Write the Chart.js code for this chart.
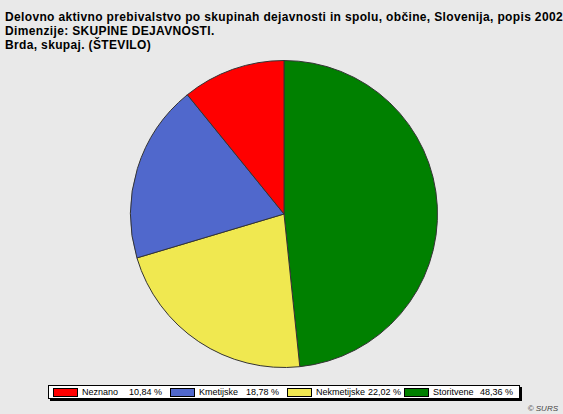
<!DOCTYPE html>
<html>
<head>
<meta charset="utf-8">
<script src="https://cdn.jsdelivr.net/npm/chart.js@4.4.0/dist/chart.umd.min.js"></script>
<style>
    body { margin: 0; width: 563px; height: 414px; background: #e9e9e9; position: relative; overflow: hidden; font-family: "Liberation Sans", Arial, sans-serif; }
    #title { position: absolute; left: 5px; top: 10px; font-size: 12px; font-weight: bold; line-height: 14px; letter-spacing: 0.35px; color: #000; white-space: nowrap; }
    #chartBox { position: absolute; left: 129px; top: 59px; width: 310px; height: 310px; }
    #legend { position: absolute; left: 48px; top: 385px; width: 470px; height: 12px; background: #fff; border: 1px solid #000; box-shadow: 2px 2px 0 #000; display: flex; align-items: center; }
    .item { width: 117px; display: flex; align-items: center; font-size: 9px; box-sizing: border-box; padding-left: 4px; padding-right: 4px; }
    .swatch { width: 23px; height: 7px; border: 1px solid #000; margin-right: 4px; flex: none; }
    .label { flex: 1; display: flex; justify-content: space-between; gap: 3px; white-space: nowrap; }
    #copy { position: absolute; right: 5px; top: 404px; font-size: 8px; font-style: italic; color: #444; }
</style>
</head>
<body>
<div id="title">Delovno aktivno prebivalstvo po skupinah dejavnosti in spolu, občine, Slovenija, popis 2002<br>Dimenzije: SKUPINE DEJAVNOSTI.<br>Brda, skupaj. (ŠTEVILO)</div>
<div id="chartBox"><canvas id="pieChart"></canvas></div>
<div id="legend"></div>
<div id="copy">© SURS</div>
<script>
const categories = ['Neznano', 'Kmetijske', 'Nekmetijske', 'Storitvene'];
const shares = [10.84, 18.78, 22.02, 48.36];
const colors = ['#ff0000', '#5068cc', '#f0e850', '#008000'];

function formatShare(value) {
    return value.toFixed(2).replace('.', ',') + ' %';
}

function buildLegend() {
    const legend = document.getElementById('legend');
    categories.forEach((name, i) => {
        const item = document.createElement('div');
        item.className = 'item';
        item.innerHTML = `
            <span class="swatch" style="background:${colors[i]}"></span>
            <span class="label"><span>${name}</span><span>${formatShare(shares[i])}</span></span>
        `;
        legend.appendChild(item);
    });
}

function createPieChart() {
    // the original goes counter-clockwise from the top, so feed the slices reversed
    const order = categories.map((_, i) => categories.length - 1 - i);
    const ctx = document.getElementById('pieChart').getContext('2d');
    new Chart(ctx, {
        type: 'pie',
        data: {
            labels: order.map(i => categories[i]),
            datasets: [{
                data: order.map(i => shares[i]),
                backgroundColor: order.map(i => colors[i]),
                borderColor: '#333',
                borderWidth: 1
            }]
        },
        options: {
            responsive: true,
            maintainAspectRatio: false,
            animation: false,
            layout: { padding: 1 },
            plugins: {
                legend: { display: false },
                tooltip: { enabled: false }
            }
        }
    });
}

buildLegend();
createPieChart();
</script>
</body>
</html>
